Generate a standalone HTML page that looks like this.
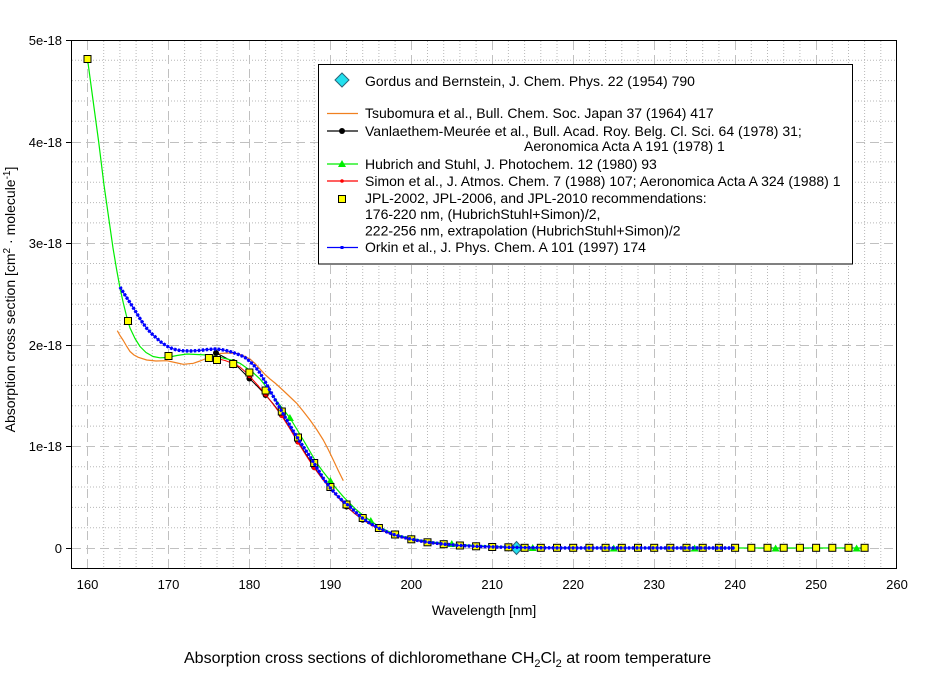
<!DOCTYPE html>
<html>
<head>
<meta charset="utf-8">
<style>
html,body{margin:0;padding:0;background:#fff;}
svg{display:block;}
text{font-family:"Liberation Sans",Arial,sans-serif;fill:#000;}
</style>
</head>
<body>
<svg width="937" height="676" viewBox="0 0 937 676" xmlns="http://www.w3.org/2000/svg">
<rect x="0" y="0" width="937" height="676" fill="#fff"/>

<!-- minor grid (dotted) -->
<path fill="none" stroke="#b8b8b8" stroke-width="1" stroke-dasharray="1 2"
d="M103.7 41V568M119.9 41V568M136.1 41V568M152.3 41V568M184.6 41V568M200.8 41V568M217 41V568M233.2 41V568M265.6 41V568M281.8 41V568M298 41V568M314.2 41V568M346.5 41V568M362.7 41V568M378.9 41V568M395.1 41V568M427.5 41V568M443.7 41V568M459.9 41V568M476.1 41V568M508.4 41V568M524.6 41V568M540.8 41V568M557 41V568M589.4 41V568M605.6 41V568M621.8 41V568M638 41V568M670.3 41V568M686.5 41V568M702.7 41V568M718.9 41V568M751.3 41V568M767.5 41V568M783.7 41V568M799.9 41V568M832.3 41V568M848.5 41V568M864.6 41V568M880.8 41V568
M72 527.7H896M72 507.4H896M72 487H896M72 466.7H896M72 426.1H896M72 405.8H896M72 385.4H896M72 365.1H896M72 324.5H896M72 304.2H896M72 283.8H896M72 263.5H896M72 222.9H896M72 202.6H896M72 182.2H896M72 161.9H896M72 121.3H896M72 101H896M72 80.6H896M72 60.3H896"/>

<!-- major grid (dashed) -->
<path fill="none" stroke="#c0c0c0" stroke-width="1" stroke-dasharray="9 5"
d="M87.5 41V568M168.5 41V568M249.5 41V568M330.5 41V568M411.5 41V568M492.5 41V568M573.5 41V568M654.5 41V568M735.5 41V568M816.5 41V568
M72 548.5H896M72 446.5H896M72 345.5H896M72 243.5H896M72 142.5H896"/>

<!-- frame -->
<rect x="71.5" y="40.5" width="825" height="528" fill="none" stroke="#000" stroke-width="1"/>
<!-- left ticks -->
<path stroke="#000" stroke-width="1" d="M66 40.5H71M66 142.5H71M66 243.5H71M66 345.5H71M66 446.5H71M66 548.5H71"/>

<!-- y tick labels -->
<g font-size="13" text-anchor="end">
<text x="62" y="45">5e-18</text>
<text x="62" y="147">4e-18</text>
<text x="62" y="248">3e-18</text>
<text x="62" y="350">2e-18</text>
<text x="62" y="451">1e-18</text>
<text x="62" y="553">0</text>
</g>
<!-- x tick labels -->
<g font-size="13" text-anchor="middle">
<text x="87.5" y="589">160</text>
<text x="168.5" y="589">170</text>
<text x="249.4" y="589">180</text>
<text x="330.4" y="589">190</text>
<text x="411.3" y="589">200</text>
<text x="492.2" y="589">210</text>
<text x="573.2" y="589">220</text>
<text x="654.2" y="589">230</text>
<text x="735.1" y="589">240</text>
<text x="816.1" y="589">250</text>
<text x="897" y="589">260</text>
</g>

<!-- axis titles -->
<text x="484" y="615" font-size="14" text-anchor="middle">Wavelength [nm]</text>
<text transform="translate(15,299.5) rotate(-90)" font-size="14" text-anchor="middle">Absorption cross section [cm<tspan font-size="10" dy="-5">2</tspan><tspan dy="5"> · molecule</tspan><tspan font-size="10" dy="-5">-1</tspan><tspan dy="5">]</tspan></text>

<!-- caption -->
<text x="184" y="663" font-size="16">Absorption cross sections of dichloromethane CH<tspan font-size="11" dy="4">2</tspan><tspan dy="-4">Cl</tspan><tspan font-size="11" dy="4">2</tspan><tspan dy="-4"> at room temperature</tspan></text>

<!-- Gordus diamond -->
<polygon points="516.5,541.5 522.5,548 516.5,554.5 510.5,548" fill="#22e0ee" stroke="#2a6478" stroke-width="1"/>

<!-- Tsubomura (orange) -->
<polyline fill="none" stroke="#f08020" stroke-width="1.2" stroke-linejoin="round"
points="117.3,330.7 120,335.5 123.3,340.5 126.5,346 130,351.5 134,355 138.3,357.3 146.7,360 156,361 166.7,360.7 175,362.5 183.3,364.3 193.3,363.3 200,361 206.7,358.3 213,355.5 220,353.5 228,353 236.7,353.5 243,355.5 250,359 255,363.5 260,369 265,374.5 270,379 275,383 280,387.5 288,395 296.7,403.3 303,411 310,420 317,430 323.3,440 328,449 333.3,460 338,470 343.3,480.7"/>

<!-- Vanlaethem (black) -->
<polyline fill="none" stroke="#000" stroke-width="1" stroke-linejoin="round"
points="216,353 224,357 233.2,362 241,370 249.4,378.5 257.5,386.5 265.6,395 273.7,404.5 281.8,415 290,428 298,441.5 306.1,454.5 314.2,467 322.3,478 330.4,488 338.4,497.5 346.5,506.5 354.6,513.5 362.7,519.8 378.9,529 395.1,535.6 411.3,539.8 427.5,542.6 443.7,544.4 459.9,545.6"/>
<g fill="#000">
<circle cx="216" cy="353" r="3"/><circle cx="233.2" cy="362" r="3"/><circle cx="249.4" cy="378.5" r="3"/><circle cx="265.6" cy="395" r="3"/><circle cx="281.8" cy="415" r="3"/><circle cx="298" cy="441.5" r="3"/><circle cx="314.2" cy="467" r="3"/><circle cx="330.4" cy="488" r="3"/><circle cx="346.5" cy="506.5" r="3"/><circle cx="362.7" cy="519.8" r="3"/><circle cx="378.9" cy="529" r="3"/><circle cx="395.1" cy="535.6" r="3"/><circle cx="411.3" cy="539.8" r="3"/>
</g>

<!-- Hubrich (green) -->
<polyline fill="none" stroke="#00ee00" stroke-width="1.2" stroke-linejoin="round"
points="87.5,59 93,100 98.7,142 104,185 109,220 113,248 116.7,270 120,288 123.3,303 126.5,316 130,328 135,338.5 140,346.5 146,352.5 153,356.5 160,357.8 167,357.5 177,355.5 187,354 197,354.5 207,355 220,357.3 233.3,360.5 240,363.3 246.7,368 253,372.5 260,379 268,389 276.7,401 283,409 290,418 296.7,429 303.3,440 310,451.5 316.7,463 323.3,472 330,480.5 336.7,489 343.3,496.7 350,503.5 356,509.5 362.7,515 370.8,521 378.9,526.5 387,530.8 395.1,534.2 403.2,536.5 411.3,538.5 427.5,541.5 443.7,543.3 459.9,544.6 476.1,545.6 492.2,546.3 508.4,546.9 532.7,547.5 573.2,548 864.6,548"/>
<g fill="#00ee00">
<polygon points="289.9,414 285.9,421 293.9,421"/>
<polygon points="330.4,477 326.4,484 334.4,484"/>
<polygon points="370.8,517 366.8,524 374.8,524"/>
<polygon points="411.3,534.5 407.3,541.5 415.3,541.5"/>
<polygon points="451.8,540 447.8,547 455.8,547"/>
<polygon points="492.2,542.5 488.2,549.5 496.2,549.5"/>
<polygon points="532.7,544 528.7,551 536.7,551"/>
<polygon points="573.2,544.5 569.2,551.5 577.2,551.5"/>
<polygon points="613.7,544.5 609.7,551.5 617.7,551.5"/>
<polygon points="654.2,544.5 650.2,551.5 658.2,551.5"/>
<polygon points="694.6,544.5 690.6,551.5 698.6,551.5"/>
<polygon points="735.1,544.5 731.1,551.5 739.1,551.5"/>
<polygon points="775.6,544.5 771.6,551.5 779.6,551.5"/>
<polygon points="816.1,544.5 812.1,551.5 820.1,551.5"/>
<polygon points="856.6,544.5 852.6,551.5 860.6,551.5"/>
</g>

<!-- Simon (red) -->
<polyline fill="none" stroke="#ff0000" stroke-width="1" stroke-linejoin="round"
points="217,358.5 225,360.5 233.2,363.5 240,367 246.7,373 249.4,376 257.5,385 265.6,394.5 273.7,405 281.8,416 290,429 298,442.5 306.1,455.5 314.2,468 322.3,479 330.4,488.5 338.4,497.5 346.5,506 354.6,513.5 362.7,519.5 370.8,524.8 378.9,529 387,532.5 395.1,535.5 403.2,537.8 411.3,539.6 427.5,542.5 443.7,544.3 459.9,545.6 476.1,546.4 492.2,547 524.6,547.6 557,548 735.1,548"/>
<g fill="#ff0000">
<circle cx="217" cy="358.5" r="2.2"/><circle cx="233.2" cy="363.5" r="2.2"/><circle cx="249.4" cy="376" r="2.2"/><circle cx="265.6" cy="394.5" r="2.2"/><circle cx="281.8" cy="416" r="2.2"/><circle cx="298" cy="442.5" r="2.2"/><circle cx="314.2" cy="468" r="2.2"/><circle cx="330.4" cy="488.5" r="2.2"/><circle cx="346.5" cy="506" r="2.2"/><circle cx="362.7" cy="519.5" r="2.2"/><circle cx="378.9" cy="529" r="2.2"/><circle cx="395.1" cy="535.5" r="2.2"/><circle cx="411.3" cy="539.6" r="2.2"/>
</g>

<!-- JPL squares -->
<g fill="#ffff00" stroke="#000" stroke-width="1">
<rect x="84" y="55.5" width="7" height="7"/>
<rect x="124.5" y="317.5" width="7" height="7"/>
<rect x="165" y="352.5" width="7" height="7"/>
<rect x="205.4" y="354.5" width="7" height="7"/>
<rect x="213.5" y="356.5" width="7" height="7"/>
<rect x="229.7" y="360.5" width="7" height="7"/>
<rect x="245.9" y="369" width="7" height="7"/>
<rect x="262.1" y="387" width="7" height="7"/>
<rect x="278.3" y="408" width="7" height="7"/>
<rect x="294.5" y="434" width="7" height="7"/>
<rect x="310.7" y="459.5" width="7" height="7"/>
<rect x="326.9" y="483.5" width="7" height="7"/>
<rect x="343" y="501" width="7" height="7"/>
<rect x="359.2" y="514.5" width="7" height="7"/>
<rect x="375.4" y="524.5" width="7" height="7"/>
<rect x="391.6" y="531" width="7" height="7"/>
<rect x="407.8" y="535.8" width="7" height="7"/>
<rect x="424" y="538.8" width="7" height="7"/>
<rect x="440.2" y="540.7" width="7" height="7"/>
<rect x="456.4" y="542" width="7" height="7"/>
<rect x="472.6" y="542.8" width="7" height="7"/>
<rect x="488.7" y="543.5" width="7" height="7"/>
<rect x="504.9" y="543.8" width="7" height="7"/>
<rect x="521.1" y="544.3" width="7" height="7"/>
<rect x="537.3" y="544.3" width="7" height="7"/>
<rect x="553.5" y="544.3" width="7" height="7"/>
<rect x="569.7" y="544.3" width="7" height="7"/>
<rect x="585.9" y="544.3" width="7" height="7"/>
<rect x="602.1" y="544.3" width="7" height="7"/>
<rect x="618.3" y="544.3" width="7" height="7"/>
<rect x="634.5" y="544.3" width="7" height="7"/>
<rect x="650.7" y="544.3" width="7" height="7"/>
<rect x="666.8" y="544.3" width="7" height="7"/>
<rect x="683" y="544.3" width="7" height="7"/>
<rect x="699.2" y="544.3" width="7" height="7"/>
<rect x="715.4" y="544.3" width="7" height="7"/>
<rect x="731.6" y="544.3" width="7" height="7"/>
<rect x="747.8" y="544.3" width="7" height="7"/>
<rect x="764" y="544.3" width="7" height="7"/>
<rect x="780.2" y="544.3" width="7" height="7"/>
<rect x="796.4" y="544.3" width="7" height="7"/>
<rect x="812.6" y="544.3" width="7" height="7"/>
<rect x="828.8" y="544.3" width="7" height="7"/>
<rect x="845" y="544.3" width="7" height="7"/>
<rect x="861.1" y="544.3" width="7" height="7"/>
</g>

<!-- Orkin (blue) -->
<g fill="none" stroke="#0000ff" stroke-linejoin="round">
<polyline id="orkin" stroke-width="1.2"
points="120,287 124,293.5 128.3,300 132.5,306.5 136.7,313.3 141.5,321 146.7,328.3 151.5,333.5 156.7,338.3 161.5,342.5 166.7,346 171.5,348.3 176.7,350 183,350.8 190,351 196.5,350.7 203.3,350 209,349.3 215,349 221,349.5 226.7,350.7 233,352.5 240,355 245,357.5 250,361.5 255,366.5 260,373 265,381.5 270,390.5 276.7,402.5 283.3,414 290,425.5 296.7,436.7 303.3,446.7 310,456.7 316.7,467.5 323.3,478.3 330,487.5 336.7,495 343.3,501.5 350,506.7 356,512.5 362.7,518.3 370.8,523.8 378.9,528.3 387,532 395.1,535 403.2,537.3 411.3,539.2 419.4,540.8 427.5,542.2 443.7,544.1 459.9,545.5 476.1,546.3 492.2,546.9 508.4,547.3 524.6,547.6 557,547.9 735.1,548"/>
<polyline stroke-width="3.4" stroke-dasharray="2.4 1.6"
points="120,287 124,293.5 128.3,300 132.5,306.5 136.7,313.3 141.5,321 146.7,328.3 151.5,333.5 156.7,338.3 161.5,342.5 166.7,346 171.5,348.3 176.7,350 183,350.8 190,351 196.5,350.7 203.3,350 209,349.3 215,349 221,349.5 226.7,350.7 233,352.5 240,355 245,357.5 250,361.5 255,366.5 260,373 265,381.5 270,390.5 276.7,402.5 283.3,414 290,425.5 296.7,436.7 303.3,446.7 310,456.7 316.7,467.5 323.3,478.3 330,487.5 336.7,495 343.3,501.5 350,506.7 356,512.5 362.7,518.3 370.8,523.8 378.9,528.3 387,532 395.1,535 403.2,537.3 411.3,539.2 419.4,540.8 427.5,542.2 443.7,544.1 459.9,545.5 476.1,546.3 492.2,546.9 508.4,547.3 524.6,547.6 557,547.9 735.1,548"/>
</g>

<!-- Legend -->
<rect x="318.5" y="64.5" width="534" height="199.5" fill="#fff" stroke="#000" stroke-width="1"/>
<polygon points="342,73 349,80 342,87 335,80" fill="#22e0ee" stroke="#2a6478" stroke-width="1"/>
<line x1="327" y1="113.5" x2="358" y2="113.5" stroke="#f08020" stroke-width="1.2"/>
<line x1="327" y1="131" x2="358" y2="131" stroke="#000" stroke-width="1.2"/>
<circle cx="342" cy="131" r="3" fill="#000"/>
<line x1="327" y1="164" x2="358" y2="164" stroke="#00ee00" stroke-width="1.2"/>
<polygon points="342,160 338,167 346,167" fill="#00ee00"/>
<line x1="327" y1="181" x2="358" y2="181" stroke="#ff0000" stroke-width="1.2"/>
<circle cx="342" cy="181" r="1.8" fill="#ff0000"/>
<rect x="338.5" y="195.5" width="7" height="7" fill="#ffff00" stroke="#000" stroke-width="1"/>
<line x1="327" y1="247.5" x2="358" y2="247.5" stroke="#0000ff" stroke-width="1.2"/>
<rect x="340.5" y="246" width="3" height="3" fill="#0000ff"/>

<g font-size="14">
<text x="365" y="86">Gordus and Bernstein, J. Chem. Phys. 22 (1954) 790</text>
<text x="365" y="118">Tsubomura et al., Bull. Chem. Soc. Japan 37 (1964) 417</text>
<text x="365" y="136">Vanlaethem-Meurée et al., Bull. Acad. Roy. Belg. Cl. Sci. 64 (1978) 31;</text>
<text x="524" y="151">Aeronomica Acta A 191 (1978) 1</text>
<text x="365" y="169">Hubrich and Stuhl, J. Photochem. 12 (1980) 93</text>
<text x="365" y="186">Simon et al., J. Atmos. Chem. 7 (1988) 107; Aeronomica Acta A 324 (1988) 1</text>
<text x="365" y="203">JPL-2002, JPL-2006, and JPL-2010 recommendations:</text>
<text x="365" y="219">176-220 nm, (HubrichStuhl+Simon)/2,</text>
<text x="365" y="235.5">222-256 nm, extrapolation (HubrichStuhl+Simon)/2</text>
<text x="365" y="252">Orkin et al., J. Phys. Chem. A 101 (1997) 174</text>
</g>
</svg>
</body>
</html>
